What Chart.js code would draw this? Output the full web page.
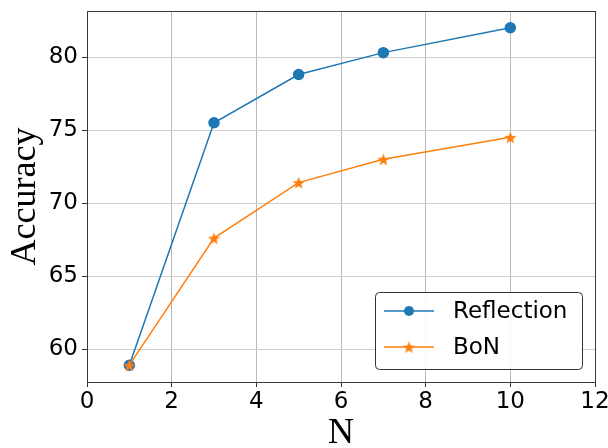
<!DOCTYPE html>
<html>
<head>
<meta charset="utf-8">
<script src="https://cdn.jsdelivr.net/npm/chart.js@4"></script>
<style>
  html, body { margin: 0; padding: 0; background: #fff; }
  #wrap { width: 608px; height: 448px; }
</style>
</head>
<body>
<div id="wrap"><canvas id="myChart" width="608" height="448"></canvas></div>
<script>
// data
const nValues = [1, 3, 5, 7, 10];
const reflectionAcc = [58.9, 75.5, 78.8, 80.3, 82.0];
const bonAcc = [58.9, 67.6, 71.4, 73.0, 74.5];
const xTicks = [0, 2, 4, 6, 8, 10, 12];
const yTicks = [60, 65, 70, 75, 80];
const seriesNames = ['Reflection', 'BoN'];

const blue = '#1f77b4';
const orange = '#ff7f0e';

// filled five-point star, matplotlib '*' style
function makeStar(size, color) {
    const c = document.createElement('canvas');
    c.width = size; c.height = size;
    const g = c.getContext('2d');
    const cx = size / 2, cy = size / 2;
    const outer = size / 2, inner = outer * 0.42;
    g.beginPath();
    for (let i = 0; i < 10; i++) {
        const r = i % 2 === 0 ? outer : inner;
        const a = -Math.PI / 2 + i * Math.PI / 5;
        const px = cx + r * Math.cos(a), py = cy + r * Math.sin(a) + size * 0.05;
        if (i === 0) g.moveTo(px, py); else g.lineTo(px, py);
    }
    g.closePath();
    g.fillStyle = color;
    g.fill();
    return c;
}
const starImg = makeStar(13, orange);

function toPoints(xs, ys) {
    return xs.map((x, i) => ({ x: x, y: ys[i] }));
}

// frame around the plot + legend box inside the plot
const framePlugin = {
    id: 'frame',
    afterDraw(chart) {
        const ctx = chart.ctx;
        const a = chart.chartArea;
        ctx.save();
        ctx.strokeStyle = '#3a3a3a';
        ctx.lineWidth = 1;
        ctx.strokeRect(Math.round(a.left) + 0.5, Math.round(a.top) + 0.5,
            Math.round(a.right - a.left), Math.round(a.bottom - a.top));

        // legend
        const bx = 375.5, by = 292.5, bw = 207, bh = 77, r = 4;
        ctx.beginPath();
        ctx.moveTo(bx + r, by);
        ctx.arcTo(bx + bw, by, bx + bw, by + bh, r);
        ctx.arcTo(bx + bw, by + bh, bx, by + bh, r);
        ctx.arcTo(bx, by + bh, bx, by, r);
        ctx.arcTo(bx, by, bx + bw, by, r);
        ctx.closePath();
        ctx.fillStyle = 'rgba(255,255,255,0.9)';
        ctx.fill();
        ctx.strokeStyle = '#333';
        ctx.stroke();

        const rows = [311, 347];
        chart.data.datasets.forEach((ds, i) => {
            const y = rows[i];
            ctx.strokeStyle = ds.borderColor;
            ctx.lineWidth = 1.5;
            ctx.beginPath();
            ctx.moveTo(384, y);
            ctx.lineTo(434, y);
            ctx.stroke();
            if (ds.pointStyle === 'circle') {
                ctx.fillStyle = ds.borderColor;
                ctx.beginPath();
                ctx.arc(409, y, 5, 0, Math.PI * 2);
                ctx.fill();
            } else {
                ctx.drawImage(starImg, 409 - starImg.width / 2, y - starImg.height / 2);
            }
            ctx.fillStyle = '#000';
            ctx.font = '23px "DejaVu Sans"';
            ctx.textBaseline = 'middle';
            ctx.textAlign = 'left';
            ctx.fillText(ds.label, 453, y + 1);
        });
        ctx.restore();
    }
};

const ctx = document.getElementById('myChart').getContext('2d');
const myChart = new Chart(ctx, {
    type: 'line',
    data: {
        datasets: [{
            label: seriesNames[0],
            data: toPoints(nValues, reflectionAcc),
            borderColor: blue,
            backgroundColor: blue,
            borderWidth: 1.5,
            pointStyle: 'circle',
            pointRadius: 5,
            pointHoverRadius: 5,
            order: 1
        }, {
            label: seriesNames[1],
            data: toPoints(nValues, bonAcc),
            borderColor: orange,
            backgroundColor: orange,
            borderWidth: 1.5,
            pointStyle: starImg,
            pointRadius: 6,
            order: 0
        }]
    },
    options: {
        responsive: false,
        animation: false,
        layout: { padding: { top: 11, right: 13, left: 0, bottom: 0 } },
        plugins: {
            legend: { display: false },
            tooltip: { enabled: false }
        },
        scales: {
            x: {
                type: 'linear',
                min: 0,
                max: 12,
                afterBuildTicks: (scale) => { scale.ticks = xTicks.map(v => ({ value: v })); },
                afterFit: (scale) => {
                    scale.height = 66;
                    scale.paddingLeft = 0;
                    scale.paddingRight = 0;
                },
                grid: { color: '#b8b8b8', lineWidth: 1, tickLength: 5, tickColor: '#333', drawOnChartArea: true },
                border: { display: false },
                ticks: { color: '#000', font: { family: 'DejaVu Sans', size: 23 }, padding: 1, maxRotation: 0 },
                title: {
                    display: true, text: 'N', color: '#000',
                    font: { family: 'Liberation Serif', size: 36 },
                    padding: { top: 0, bottom: -7 }
                }
            },
            y: {
                type: 'linear',
                min: 57.75,
                max: 83.15,
                afterBuildTicks: (scale) => { scale.ticks = yTicks.map(v => ({ value: v })); },
                afterFit: (scale) => {
                    scale.width = 87;
                    scale.paddingTop = 0;
                    scale.paddingBottom = 0;
                },
                grid: { color: '#cfcfcf', lineWidth: 1, tickLength: 5, tickColor: '#333' },
                border: { display: false },
                ticks: { color: '#000', font: { family: 'DejaVu Sans', size: 23 }, padding: 4 },
                title: {
                    display: true, text: 'Accuracy', color: '#000',
                    font: { family: 'Liberation Serif', size: 36 },
                    padding: { top: 4, bottom: 0 }
                }
            }
        }
    },
    plugins: [framePlugin]
});
</script>
</body>
</html>
